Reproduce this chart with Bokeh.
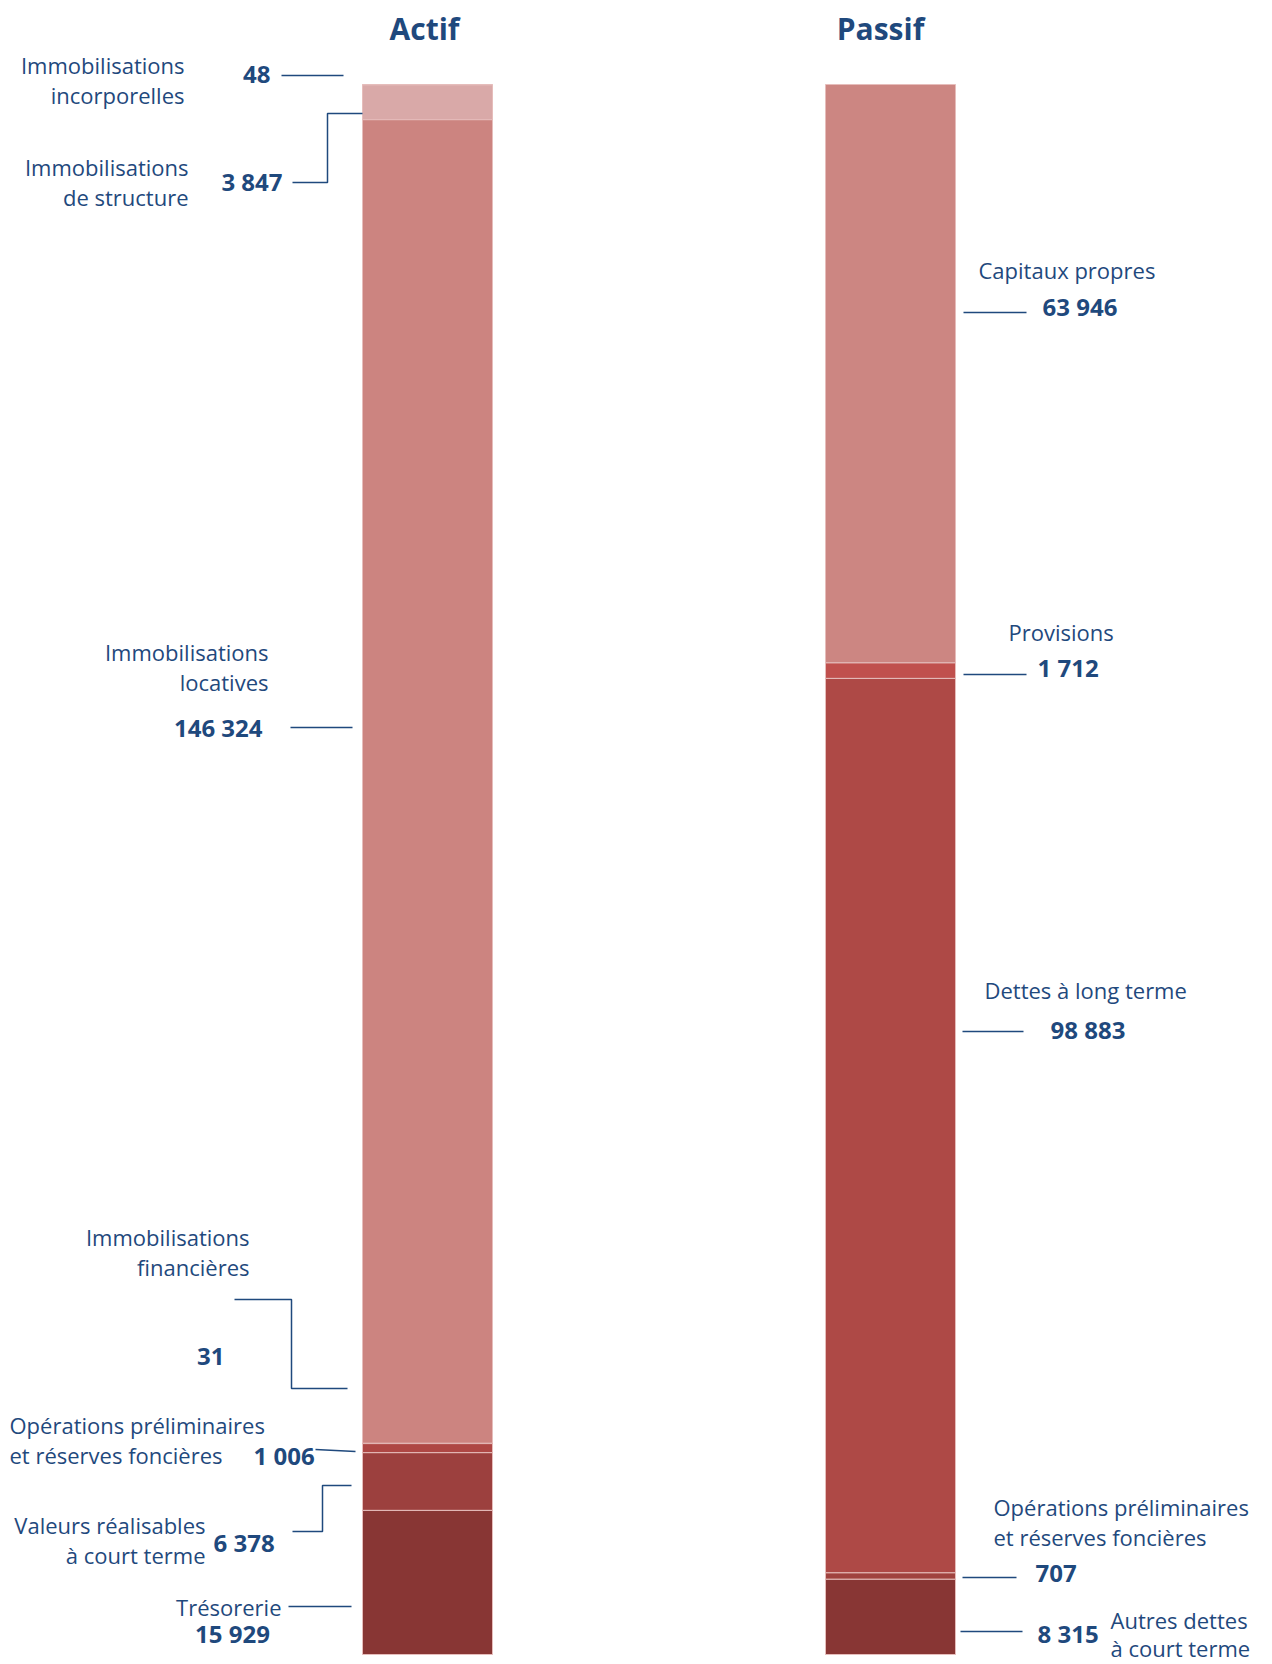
import numpy as np
from bokeh.plotting import figure
from bokeh.models import Range1d, ColumnDataSource
from bokeh.embed import file_html
from bokeh.resources import INLINE
from bokeh.core.properties import value

# ---------------- data ----------------
titles = ["Actif", "Passif"]

actif_labels = [
    "Immobilisations\nincorporelles",
    "Immobilisations\nde structure",
    "Immobilisations\nlocatives",
    "Immobilisations\nfinancières",
    "Opérations préliminaires\net réserves foncières",
    "Valeurs réalisables\nà court terme",
    "Trésorerie",
]
actif_values = [48, 3847, 146324, 31, 1006, 6378, 15929]

passif_labels = [
    "Capitaux propres",
    "Provisions",
    "Dettes  à long terme",
    "Opérations préliminaires\net réserves foncières",
    "Autres  dettes\nà court terme",
]
passif_values = [63946, 1712, 98883, 707, 8315]

# ---------------- styles ----------------
actif_colors = ["#E4BEBD", "#D9A9A8", "#CC8480", "#CC8480", "#AE4744", "#9C403E", "#883634"]
passif_colors = ["#CC8682", "#C0504D", "#AE4946", "#A0433F", "#883634"]
TXT = "#1F497D"
FONT = "Open Sans"
LBL_SIZE = "22px"
VAL_SIZE = "24px"
TITLE_SIZE = "30px"
LINE_GAP = 30
TEXT_DY = -9

# ---------------- layout (page pixels) ----------------
W, H = 1264, 1664
TOP_PX, BOT_PX = 84, 1654
total = sum(actif_values)
k = total / (BOT_PX - TOP_PX)


def Y(py):
    return (py - TOP_PX) * k


bars_x = [(362, 492), (825, 955)]
title_x = [424, 880]
TITLE_Y = 37

# per item: (name x, name baseline y, name align), (value x, value y, value align), leader polyline
actif_layout = [
    ((184, 73, "right"), (270, 83, "right"), [(281, 75), (343, 75)]),
    ((188, 175, "right"), (282, 190, "right"), [(292, 182), (327, 182), (327, 113), (362, 113)]),
    ((268, 660, "right"), (262, 736, "right"), [(290, 727), (352, 727)]),
    ((249, 1245, "right"), (224, 1365, "right"), [(234, 1299), (291, 1299), (291, 1388), (347, 1388)]),
    ((9, 1433, "left"), (253, 1464, "left"), [(315, 1449), (355, 1451)]),
    ((205, 1533, "right"), (213, 1551, "left"), [(292, 1531), (322, 1531), (322, 1485), (351, 1485)]),
    ((281, 1615, "right"), (232, 1642, "center"), [(288, 1606), (351, 1606)]),
]
passif_layout = [
    ((978, 278, "left"), (1042, 315, "left"), [(963, 312), (1026, 312)]),
    ((1008, 640, "left"), (1037, 676, "left"), [(963, 674), (1026, 674)]),
    ((984, 998, "left"), (1050, 1038, "left"), [(962, 1031), (1023, 1031)]),
    ((993, 1515, "left"), (1035, 1582, "left"), [(962, 1577), (1016, 1577)]),
    ((1110, 1628, "left"), (1037, 1642, "left"), [(960, 1631), (1022, 1631)]),
]

p = figure(
    width=W, height=H,
    x_range=Range1d(0, W),
    y_range=Range1d(Y(H), Y(0)),
    output_backend="svg", toolbar_location=None,
    min_border=0, x_axis_location=None, y_axis_location=None,
    outline_line_color=None,
)
p.xgrid.visible = False
p.ygrid.visible = False
p.background_fill_color = "white"
p.border_fill_color = "white"


def fmt(v):
    return f"{v:,}".replace(",", " ")


def add_text(x, py, s, align, bold=False, size=LBL_SIZE):
    p.text(x=[x], y=[Y(py + TEXT_DY)], text=[s], text_font=value(FONT),
           text_font_size=size, text_color=TXT, text_align=align,
           text_baseline="alphabetic",
           text_font_style="bold" if bold else "normal")


for vals, cols, (x0, x1) in [(actif_values, actif_colors, bars_x[0]),
                             (passif_values, passif_colors, bars_x[1])]:
    c = np.cumsum([0] + vals)
    src = ColumnDataSource(dict(top=c[:-1], bottom=c[1:], color=cols))
    p.quad(left=x0, right=x1, top="top", bottom="bottom", fill_color="color",
           line_color="#E6BDBB", line_width=1, source=src)

for t, x in zip(titles, title_x):
    add_text(x, TITLE_Y, t, "center", bold=True, size=TITLE_SIZE)

for labels, vals, layout in [(actif_labels, actif_values, actif_layout),
                             (passif_labels, passif_values, passif_layout)]:
    for lab, v, (nm, vl, leader) in zip(labels, vals, layout):
        for i, line in enumerate(lab.split("\n")):
            add_text(nm[0], nm[1] + i * (LINE_GAP - 2 if nm[1] > 1600 else LINE_GAP), line, nm[2])
        add_text(vl[0], vl[1], fmt(v), vl[2], bold=True, size=VAL_SIZE)
        p.line([q[0] for q in leader], [Y(q[1]) for q in leader],
               line_color=TXT, line_width=1.5)

open("out.html", "w").write(file_html(p, INLINE))
